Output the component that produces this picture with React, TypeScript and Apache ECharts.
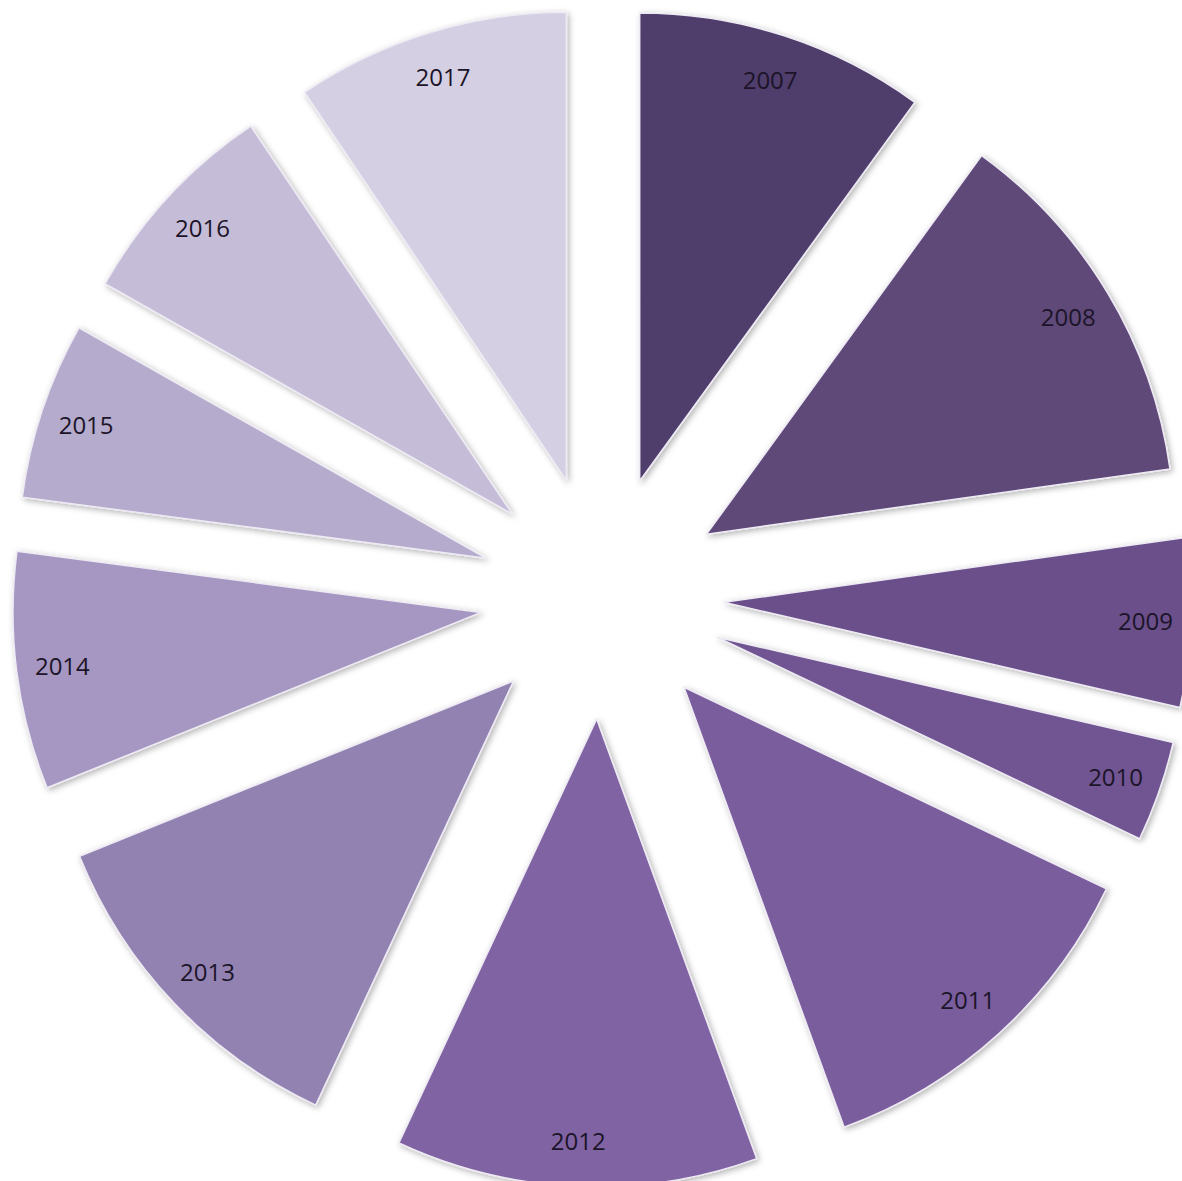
import React, { useEffect, useRef } from "react";
import * as echarts from "echarts";

const years = ["2007", "2008", "2009", "2010", "2011", "2012", "2013", "2014", "2015", "2016", "2017"];
const values = [36, 46, 21, 12.5, 44.5, 45, 43, 29.5, 22, 26.5, 34];
const colors = [
  "#4f3e6c", "#5f4879", "#6a508a", "#705592", "#7a5d9d", "#8064a2",
  "#9282b1", "#a597c1", "#b4abcd", "#c5bdd8", "#d4cfe2",
];

const CENTER: [number, number] = [602, 597];
const R = 468;
const LABEL_R0 = 370;
const OFFSET = 122;

export default function App() {
  const ref = useRef<HTMLDivElement>(null);
  useEffect(() => {
    if (!ref.current) return;
    const chart = echarts.init(ref.current, undefined, { renderer: "svg" });
    const baseData = years.map((y, i) => ({
      name: y,
      value: values[i],
      selected: true,
      itemStyle: { color: colors[i] },
    }));
    chart.setOption({
      animation: false,
      backgroundColor: "#ffffff",
      series: [
        {
          type: "pie",
          center: CENTER,
          radius: [0, R],
          startAngle: 90,
          clockwise: true,
          selectedMode: "multiple",
          selectedOffset: OFFSET,
          silent: true,
          label: { show: false },
          labelLine: { show: false },
          itemStyle: {
            borderColor: "#eeeaf4",
            borderWidth: 1.5,
            shadowBlur: 6,
            shadowColor: "rgba(0,0,0,0.3)",
            shadowOffsetX: 2,
            shadowOffsetY: 2,
          },
          emphasis: { disabled: true },
          data: baseData,
        },
        {
          type: "pie",
          center: CENTER,
          radius: [LABEL_R0, R],
          startAngle: 90,
          clockwise: true,
          selectedMode: "multiple",
          selectedOffset: OFFSET,
          silent: true,
          itemStyle: { color: "transparent", borderWidth: 0 },
          label: {
            show: true,
            position: "inside",
            color: "#1c1428",
            fontFamily: "Open Sans",
            fontSize: 24,
          },
          labelLine: { show: false },
          emphasis: { disabled: true },
          data: years.map((y, i) => ({
            name: y,
            value: values[i],
            selected: true,
            itemStyle: { color: "transparent" },
          })),
        },
      ],
    });
    return () => chart.dispose();
  }, []);
  return (
    <div
      ref={ref}
      style={{ position: "absolute", left: 0, top: 0, width: 1182, height: 1181 }}
    />
  );
}
